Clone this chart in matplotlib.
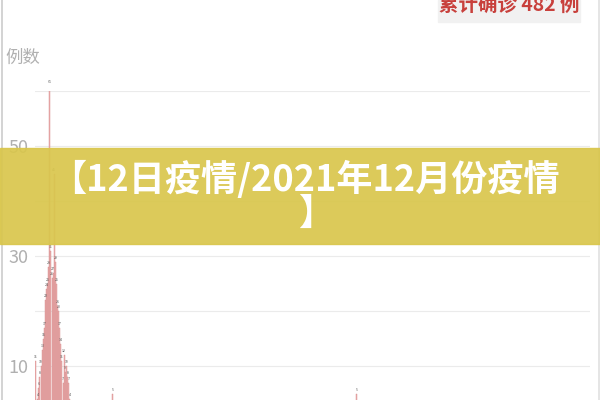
import numpy as np
import matplotlib.pyplot as plt
from matplotlib.patches import Rectangle

plt.rcParams['font.family'] = ['Noto Sans CJK SC', 'DejaVu Sans']

# daily new cases, first cluster (day 0 .. 33)
cluster = [11, 2, 4, 6, 8, 10, 13, 15, 17, 22, 24, 25, 28, 61, 31, 26, 27, 45,
           29, 25, 21, 20, 17, 14, 11, 7, 12, 9, 10, 8, 7, 4, 2, 1]
# scattered later cases (day index, count)
late_days = [67, 70, 72, 74, 76, 101, 256, 292, 472, 496]
late_vals = [1, 5, 2, 1, 1, 1, 1, 5, 1, 1]
n_days = 505
yticks = [10, 30, 50]
total_txt = '累计确诊 482 例'
banner_l1 = '【12日疫情/2021年12月份疫情'
banner_l2 = '】'

cases = np.zeros(n_days)
cases[:len(cluster)] = cluster
cases[late_days] = late_vals
x = np.arange(n_days)

fig = plt.figure(figsize=(6, 4), dpi=100)
ax = fig.add_axes([35/600, -21/400, 555/600, 330/400])
ax.set_xlim(-0.5, n_days - 0.5)
ax.set_ylim(0, 60)
for g in range(10, 61, 10):
    ax.axhline(g, color='#ebebeb', lw=0.8, zorder=0)
ax.bar(x, cases, width=0.9, color='#efb4b4', edgecolor='#d58a8a', lw=0.3, zorder=2)
for xi, v in zip(x, cases):
    if v > 0:
        ax.text(xi, v + 0.3, str(int(v)), fontsize=2.5, color='#555555',
                ha='center', va='bottom', zorder=3)
ax.set_yticks(yticks)
ax.set_yticklabels([str(t) for t in yticks], color='#b0b0b0', fontsize=13,
                   fontweight='light')
ax.tick_params(axis='y', length=0, pad=5)
ax.set_xticks([])
for s in ax.spines.values():
    s.set_visible(False)

fig.text(5/600, 1 - 58/400, '例数', fontsize=12.5, color='#b0b0b0', va='center',
         ha='left', fontweight='light')

# cumulative box top right
fig.patches.append(Rectangle((438/600, 1 - 22/400), 142/600, 22/400,
                             transform=fig.transFigure, color='#f1f1f1', zorder=1))
fig.text(509/600, 1 - 5/400, total_txt, fontsize=14, color='#c8403c',
         fontweight='bold', ha='center', va='center', zorder=2)

# page border
fig.lines.append(plt.Line2D([1.5/600, 1.5/600], [0, 1], transform=fig.transFigure,
                            color='#cccccc', lw=1.2))
fig.lines.append(plt.Line2D([598.5/600, 598.5/600], [0, 1], transform=fig.transFigure,
                            color='#e0e0e0', lw=1.2))

# banner overlay
fig.patches.append(Rectangle((0, 1 - 244/400), 1, 96/400, transform=fig.transFigure,
                             color='#d9c64c', alpha=0.92, zorder=5))
fig.text(305/600, 1 - 180/400, banner_l1, fontsize=26, color='white',
         fontweight='bold', ha='center', va='center', zorder=6)
fig.text(316/600, 1 - 214/400, banner_l2, fontsize=26, color='white',
         fontweight='bold', ha='center', va='center', zorder=6)

fig.savefig('out.png', dpi=100)
